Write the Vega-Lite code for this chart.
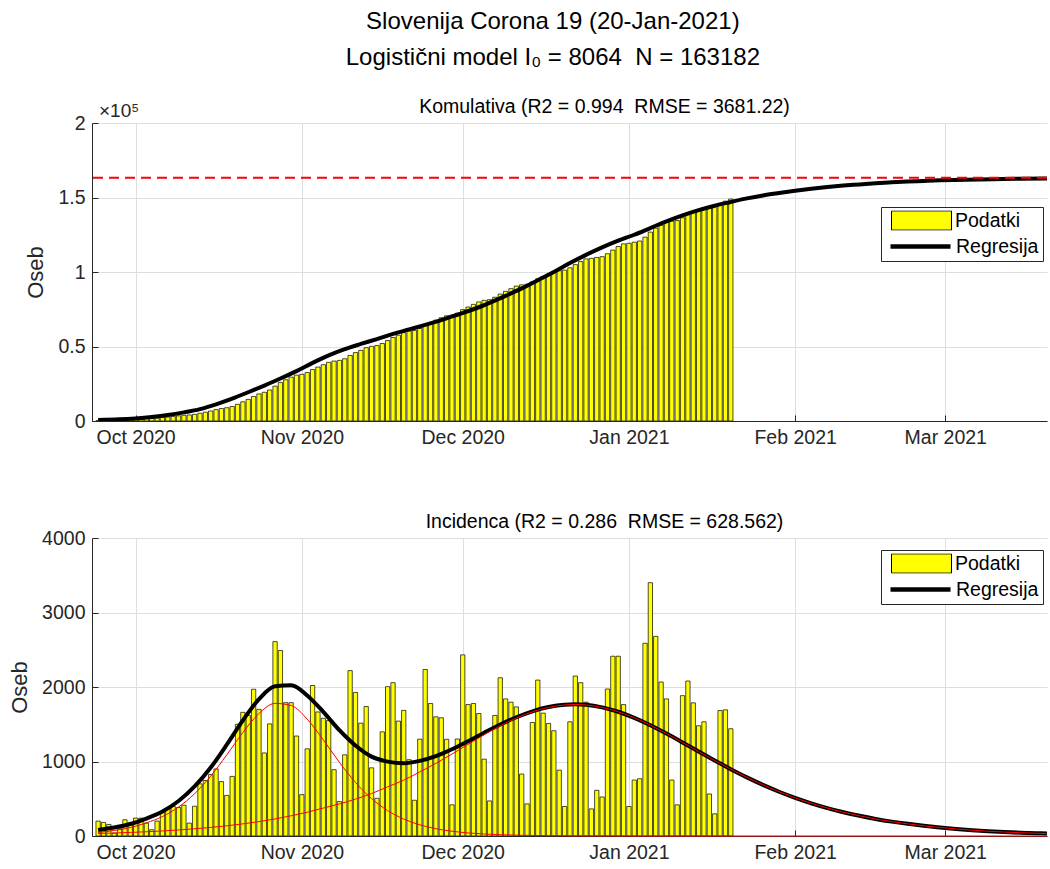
{
  "$schema": "https://vega.github.io/schema/vega-lite/v6.json",
  "background": "white",
  "padding": {"left": 8, "top": 9, "right": 0, "bottom": 0},
  "title": {
    "text": ["Slovenija Corona 19 (20-Jan-2021)", "Logistični model I₀ = 8064 \u00a0N = 163182"],
    "fontSize": 24,
    "lineHeight": 36,
    "fontWeight": "normal",
    "color": "black",
    "anchor": "middle",
    "dx": 24,
    "offset": 27
  },
  "config": {
    "font": "Liberation Sans",
    "view": {"stroke": null},
    "axis": {
      "labelFont": "Liberation Sans",
      "labelFontSize": 19.5,
      "labelColor": "#262626",
      "titleFont": "Liberation Sans",
      "titleFontSize": 22,
      "titleFontWeight": "normal",
      "titleColor": "#262626",
      "domainColor": "#262626",
      "tickColor": "#262626",
      "gridColor": "#dedede",
      "tickSize": -6,
      "labelPadding": 13,
      "titlePadding": 10
    },
    "title": {"font": "Liberation Sans", "fontWeight": "normal", "color": "black"},
    "legend": {
      "orient": "none",
      "labelFont": "Liberation Sans",
      "labelFontSize": 19.5,
      "labelColor": "black",
      "titleFont": "Liberation Sans",
      "titleFontSize": 19.5,
      "titleFontWeight": "normal",
      "padding": 4,
      "clipHeight": 20,
      "rowPadding": 6,
      "symbolOffset": 3,
      "labelOffset": 3,
      "symbolSize": 3600,
      "labelLimit": 0
    }
  },
  "resolve": {
    "scale": {"fill": "independent", "stroke": "independent"},
    "legend": {"fill": "independent", "stroke": "independent"}
  },
  "spacing": 64,
  "datasets": {
    "podatki": [
      {"date": "2020-09-24", "inc": 200, "cum": 200},
      {"date": "2020-09-25", "inc": 182, "cum": 382},
      {"date": "2020-09-26", "inc": 155, "cum": 537},
      {"date": "2020-09-27", "inc": 40, "cum": 577},
      {"date": "2020-09-28", "inc": 98, "cum": 675},
      {"date": "2020-09-29", "inc": 218, "cum": 893},
      {"date": "2020-09-30", "inc": 173, "cum": 1066},
      {"date": "2020-10-01", "inc": 240, "cum": 1306},
      {"date": "2020-10-02", "inc": 240, "cum": 1546},
      {"date": "2020-10-03", "inc": 173, "cum": 1719},
      {"date": "2020-10-04", "inc": 84, "cum": 1803},
      {"date": "2020-10-05", "inc": 200, "cum": 2003},
      {"date": "2020-10-06", "inc": 320, "cum": 2323},
      {"date": "2020-10-07", "inc": 373, "cum": 2696},
      {"date": "2020-10-08", "inc": 396, "cum": 3092},
      {"date": "2020-10-09", "inc": 382, "cum": 3474},
      {"date": "2020-10-10", "inc": 413, "cum": 3887},
      {"date": "2020-10-11", "inc": 173, "cum": 4060},
      {"date": "2020-10-12", "inc": 400, "cum": 4460},
      {"date": "2020-10-13", "inc": 700, "cum": 5160},
      {"date": "2020-10-14", "inc": 745, "cum": 5905},
      {"date": "2020-10-15", "inc": 825, "cum": 6730},
      {"date": "2020-10-16", "inc": 900, "cum": 7630},
      {"date": "2020-10-17", "inc": 730, "cum": 8360},
      {"date": "2020-10-18", "inc": 545, "cum": 8905},
      {"date": "2020-10-19", "inc": 800, "cum": 9705},
      {"date": "2020-10-20", "inc": 1500, "cum": 11205},
      {"date": "2020-10-21", "inc": 1660, "cum": 12865},
      {"date": "2020-10-22", "inc": 1620, "cum": 14485},
      {"date": "2020-10-23", "inc": 1970, "cum": 16455},
      {"date": "2020-10-24", "inc": 1700, "cum": 18155},
      {"date": "2020-10-25", "inc": 1115, "cum": 19270},
      {"date": "2020-10-26", "inc": 1505, "cum": 20775},
      {"date": "2020-10-27", "inc": 2609, "cum": 23384},
      {"date": "2020-10-28", "inc": 2490, "cum": 25874},
      {"date": "2020-10-29", "inc": 1790, "cum": 27664},
      {"date": "2020-10-30", "inc": 1790, "cum": 29454},
      {"date": "2020-10-31", "inc": 1342, "cum": 30796},
      {"date": "2020-11-01", "inc": 555, "cum": 31351},
      {"date": "2020-11-02", "inc": 1170, "cum": 32521},
      {"date": "2020-11-03", "inc": 2020, "cum": 34541},
      {"date": "2020-11-04", "inc": 1665, "cum": 36206},
      {"date": "2020-11-05", "inc": 1580, "cum": 37786},
      {"date": "2020-11-06", "inc": 1550, "cum": 39336},
      {"date": "2020-11-07", "inc": 890, "cum": 40226},
      {"date": "2020-11-08", "inc": 462, "cum": 40688},
      {"date": "2020-11-09", "inc": 1090, "cum": 41778},
      {"date": "2020-11-10", "inc": 2220, "cum": 43998},
      {"date": "2020-11-11", "inc": 1927, "cum": 45925},
      {"date": "2020-11-12", "inc": 1515, "cum": 47440},
      {"date": "2020-11-13", "inc": 1738, "cum": 49178},
      {"date": "2020-11-14", "inc": 915, "cum": 50093},
      {"date": "2020-11-15", "inc": 506, "cum": 50599},
      {"date": "2020-11-16", "inc": 1398, "cum": 51997},
      {"date": "2020-11-17", "inc": 2005, "cum": 54002},
      {"date": "2020-11-18", "inc": 2058, "cum": 56060},
      {"date": "2020-11-19", "inc": 1542, "cum": 57602},
      {"date": "2020-11-20", "inc": 1686, "cum": 59288},
      {"date": "2020-11-21", "inc": 1024, "cum": 60312},
      {"date": "2020-11-22", "inc": 480, "cum": 60792},
      {"date": "2020-11-23", "inc": 1300, "cum": 62092},
      {"date": "2020-11-24", "inc": 2235, "cum": 64327},
      {"date": "2020-11-25", "inc": 1778, "cum": 66105},
      {"date": "2020-11-26", "inc": 1600, "cum": 67705},
      {"date": "2020-11-27", "inc": 1587, "cum": 69292},
      {"date": "2020-11-28", "inc": 1298, "cum": 70590},
      {"date": "2020-11-29", "inc": 418, "cum": 71008},
      {"date": "2020-11-30", "inc": 1302, "cum": 72310},
      {"date": "2020-12-01", "inc": 2431, "cum": 74741},
      {"date": "2020-12-02", "inc": 1764, "cum": 76505},
      {"date": "2020-12-03", "inc": 1778, "cum": 78283},
      {"date": "2020-12-04", "inc": 1644, "cum": 79927},
      {"date": "2020-12-05", "inc": 1031, "cum": 80958},
      {"date": "2020-12-06", "inc": 471, "cum": 81429},
      {"date": "2020-12-07", "inc": 1618, "cum": 83047},
      {"date": "2020-12-08", "inc": 2124, "cum": 85171},
      {"date": "2020-12-09", "inc": 1840, "cum": 87011},
      {"date": "2020-12-10", "inc": 1796, "cum": 88807},
      {"date": "2020-12-11", "inc": 1733, "cum": 90540},
      {"date": "2020-12-12", "inc": 831, "cum": 91371},
      {"date": "2020-12-13", "inc": 431, "cum": 91802},
      {"date": "2020-12-14", "inc": 1524, "cum": 93326},
      {"date": "2020-12-15", "inc": 2093, "cum": 95419},
      {"date": "2020-12-16", "inc": 1649, "cum": 97068},
      {"date": "2020-12-17", "inc": 1511, "cum": 98579},
      {"date": "2020-12-18", "inc": 1413, "cum": 99992},
      {"date": "2020-12-19", "inc": 884, "cum": 100876},
      {"date": "2020-12-20", "inc": 396, "cum": 101272},
      {"date": "2020-12-21", "inc": 1533, "cum": 102805},
      {"date": "2020-12-22", "inc": 2147, "cum": 104952},
      {"date": "2020-12-23", "inc": 2058, "cum": 107010},
      {"date": "2020-12-24", "inc": 1796, "cum": 108806},
      {"date": "2020-12-25", "inc": 364, "cum": 109170},
      {"date": "2020-12-26", "inc": 613, "cum": 109783},
      {"date": "2020-12-27", "inc": 524, "cum": 110307},
      {"date": "2020-12-28", "inc": 1973, "cum": 112280},
      {"date": "2020-12-29", "inc": 2413, "cum": 114693},
      {"date": "2020-12-30", "inc": 2413, "cum": 117106},
      {"date": "2020-12-31", "inc": 1764, "cum": 118870},
      {"date": "2021-01-01", "inc": 396, "cum": 119266},
      {"date": "2021-01-02", "inc": 751, "cum": 120017},
      {"date": "2021-01-03", "inc": 769, "cum": 120786},
      {"date": "2021-01-04", "inc": 2587, "cum": 123373},
      {"date": "2021-01-05", "inc": 3400, "cum": 126773},
      {"date": "2021-01-06", "inc": 2680, "cum": 129453},
      {"date": "2021-01-07", "inc": 2067, "cum": 131520},
      {"date": "2021-01-08", "inc": 1840, "cum": 133360},
      {"date": "2021-01-09", "inc": 751, "cum": 134111},
      {"date": "2021-01-10", "inc": 418, "cum": 134529},
      {"date": "2021-01-11", "inc": 1884, "cum": 136413},
      {"date": "2021-01-12", "inc": 2080, "cum": 138493},
      {"date": "2021-01-13", "inc": 1787, "cum": 140280},
      {"date": "2021-01-14", "inc": 1480, "cum": 141760},
      {"date": "2021-01-15", "inc": 1533, "cum": 143293},
      {"date": "2021-01-16", "inc": 564, "cum": 143857},
      {"date": "2021-01-17", "inc": 298, "cum": 144155},
      {"date": "2021-01-18", "inc": 1684, "cum": 145839},
      {"date": "2021-01-19", "inc": 1693, "cum": 147532},
      {"date": "2021-01-20", "inc": 1440, "cum": 148972}
    ],
    "kum_fit": [
      {"date": "2020-09-24", "fit": 700},
      {"date": "2020-09-28", "fit": 1100},
      {"date": "2020-10-01", "fit": 1750},
      {"date": "2020-10-04", "fit": 2700},
      {"date": "2020-10-07", "fit": 4000},
      {"date": "2020-10-10", "fit": 5800},
      {"date": "2020-10-13", "fit": 8000},
      {"date": "2020-10-16", "fit": 11200},
      {"date": "2020-10-19", "fit": 15000},
      {"date": "2020-10-22", "fit": 19300},
      {"date": "2020-10-25", "fit": 23800},
      {"date": "2020-10-28", "fit": 28500},
      {"date": "2020-10-31", "fit": 33500},
      {"date": "2020-11-03", "fit": 39000},
      {"date": "2020-11-06", "fit": 44000},
      {"date": "2020-11-09", "fit": 48200},
      {"date": "2020-11-12", "fit": 51700},
      {"date": "2020-11-15", "fit": 55000},
      {"date": "2020-11-18", "fit": 58500},
      {"date": "2020-11-21", "fit": 61500},
      {"date": "2020-11-24", "fit": 64500},
      {"date": "2020-11-27", "fit": 67700},
      {"date": "2020-11-30", "fit": 71300},
      {"date": "2020-12-03", "fit": 75000},
      {"date": "2020-12-06", "fit": 79300},
      {"date": "2020-12-09", "fit": 84000},
      {"date": "2020-12-12", "fit": 89000},
      {"date": "2020-12-15", "fit": 94500},
      {"date": "2020-12-18", "fit": 100000},
      {"date": "2020-12-21", "fit": 106000},
      {"date": "2020-12-24", "fit": 111500},
      {"date": "2020-12-27", "fit": 116500},
      {"date": "2020-12-30", "fit": 121000},
      {"date": "2021-01-02", "fit": 125000},
      {"date": "2021-01-05", "fit": 129500},
      {"date": "2021-01-08", "fit": 134000},
      {"date": "2021-01-11", "fit": 138000},
      {"date": "2021-01-14", "fit": 141500},
      {"date": "2021-01-17", "fit": 144500},
      {"date": "2021-01-20", "fit": 147000},
      {"date": "2021-01-23", "fit": 149400},
      {"date": "2021-01-26", "fit": 151400},
      {"date": "2021-01-29", "fit": 153000},
      {"date": "2021-02-01", "fit": 154500},
      {"date": "2021-02-04", "fit": 155800},
      {"date": "2021-02-07", "fit": 157000},
      {"date": "2021-02-10", "fit": 158000},
      {"date": "2021-02-13", "fit": 158800},
      {"date": "2021-02-16", "fit": 159600},
      {"date": "2021-02-19", "fit": 160200},
      {"date": "2021-02-22", "fit": 160700},
      {"date": "2021-02-25", "fit": 161100},
      {"date": "2021-02-28", "fit": 161500},
      {"date": "2021-03-05", "fit": 161950},
      {"date": "2021-03-10", "fit": 162300},
      {"date": "2021-03-15", "fit": 162550},
      {"date": "2021-03-20", "fit": 162750}
    ],
    "inc_fit": [
      {"date": "2020-09-24", "total": 81, "c1": 48, "c2": 34},
      {"date": "2020-09-27", "total": 114, "c1": 74, "c2": 40},
      {"date": "2020-09-30", "total": 161, "c1": 113, "c2": 48},
      {"date": "2020-10-03", "total": 234, "c1": 177, "c2": 57},
      {"date": "2020-10-06", "total": 329, "c1": 261, "c2": 68},
      {"date": "2020-10-09", "total": 470, "c1": 389, "c2": 81},
      {"date": "2020-10-12", "total": 665, "c1": 568, "c2": 97},
      {"date": "2020-10-15", "total": 919, "c1": 804, "c2": 115},
      {"date": "2020-10-18", "total": 1226, "c1": 1089, "c2": 137},
      {"date": "2020-10-21", "total": 1553, "c1": 1390, "c2": 163},
      {"date": "2020-10-24", "total": 1837, "c1": 1644, "c2": 193},
      {"date": "2020-10-27", "total": 2009, "c1": 1780, "c2": 229},
      {"date": "2020-10-30", "total": 2023, "c1": 1752, "c2": 271},
      {"date": "2020-11-02", "total": 1887, "c1": 1568, "c2": 319},
      {"date": "2020-11-05", "total": 1666, "c1": 1291, "c2": 375},
      {"date": "2020-11-08", "total": 1420, "c1": 989, "c2": 431},
      {"date": "2020-11-11", "total": 1214, "c1": 719, "c2": 495},
      {"date": "2020-11-14", "total": 1065, "c1": 502, "c2": 570},
      {"date": "2020-11-17", "total": 998, "c1": 341, "c2": 660},
      {"date": "2020-11-20", "total": 976, "c1": 228, "c2": 750},
      {"date": "2020-11-23", "total": 1008, "c1": 150, "c2": 860},
      {"date": "2020-11-26", "total": 1072, "c1": 98, "c2": 975},
      {"date": "2020-11-29", "total": 1164, "c1": 64, "c2": 1100},
      {"date": "2020-12-02", "total": 1271, "c1": 41, "c2": 1230},
      {"date": "2020-12-05", "total": 1387, "c1": 27, "c2": 1360},
      {"date": "2020-12-08", "total": 1497, "c1": 17, "c2": 1480},
      {"date": "2020-12-11", "total": 1594, "c1": 11, "c2": 1583},
      {"date": "2020-12-14", "total": 1674, "c1": 7, "c2": 1667},
      {"date": "2020-12-17", "total": 1731, "c1": 5, "c2": 1726},
      {"date": "2020-12-20", "total": 1762, "c1": 3, "c2": 1759},
      {"date": "2020-12-22", "total": 1767, "c1": 2, "c2": 1765},
      {"date": "2020-12-24", "total": 1761, "c1": 2, "c2": 1759},
      {"date": "2020-12-27", "total": 1727, "c1": 1, "c2": 1726},
      {"date": "2020-12-30", "total": 1668, "c1": 1, "c2": 1667},
      {"date": "2021-01-02", "total": 1586, "c1": 0, "c2": 1586},
      {"date": "2021-01-05", "total": 1487, "c1": 0, "c2": 1487},
      {"date": "2021-01-08", "total": 1375, "c1": 0, "c2": 1375},
      {"date": "2021-01-11", "total": 1256, "c1": 0, "c2": 1256},
      {"date": "2021-01-14", "total": 1134, "c1": 0, "c2": 1134},
      {"date": "2021-01-17", "total": 1013, "c1": 0, "c2": 1013},
      {"date": "2021-01-20", "total": 897, "c1": 0, "c2": 897},
      {"date": "2021-01-23", "total": 787, "c1": 0, "c2": 787},
      {"date": "2021-01-26", "total": 686, "c1": 0, "c2": 686},
      {"date": "2021-01-29", "total": 594, "c1": 0, "c2": 594},
      {"date": "2021-02-01", "total": 512, "c1": 0, "c2": 512},
      {"date": "2021-02-04", "total": 439, "c1": 0, "c2": 439},
      {"date": "2021-02-07", "total": 375, "c1": 0, "c2": 375},
      {"date": "2021-02-10", "total": 319, "c1": 0, "c2": 319},
      {"date": "2021-02-13", "total": 271, "c1": 0, "c2": 271},
      {"date": "2021-02-16", "total": 229, "c1": 0, "c2": 229},
      {"date": "2021-02-19", "total": 193, "c1": 0, "c2": 193},
      {"date": "2021-02-22", "total": 163, "c1": 0, "c2": 163},
      {"date": "2021-02-25", "total": 137, "c1": 0, "c2": 137},
      {"date": "2021-02-28", "total": 115, "c1": 0, "c2": 115},
      {"date": "2021-03-03", "total": 95, "c1": 0, "c2": 95},
      {"date": "2021-03-06", "total": 78, "c1": 0, "c2": 78},
      {"date": "2021-03-09", "total": 64, "c1": 0, "c2": 64},
      {"date": "2021-03-12", "total": 53, "c1": 0, "c2": 53},
      {"date": "2021-03-15", "total": 44, "c1": 0, "c2": 44},
      {"date": "2021-03-18", "total": 37, "c1": 0, "c2": 37},
      {"date": "2021-03-20", "total": 33, "c1": 0, "c2": 33}
    ]
  },
  "vconcat": [
    {
      "width": 955,
      "height": 298,
      "title": {"text": "Komulativa (R2 = 0.994 \u00a0RMSE = 3681.22)", "fontSize": 19.5, "dx": 35, "offset": -15},
      "layer": [
        {
          "data": {"name": "podatki"},
          "mark": {"type": "bar", "width": 4.3, "stroke": "black", "strokeWidth": 0.7, "clip": true},
          "encoding": {
            "x": {
              "field": "date", "type": "temporal", "title": null,
              "scale": {"type": "utc", "domain": [{"year": 2020, "month": 9, "date": 23, "hours": 19, "utc": true}, {"year": 2021, "month": 3, "date": 19, "hours": 1, "utc": true}]},
              "axis": {"format": "%b %Y", "grid": true, "values": [
                {"year": 2020, "month": 10, "date": 1, "utc": true},
                {"year": 2020, "month": 11, "date": 1, "utc": true},
                {"year": 2020, "month": 12, "date": 1, "utc": true},
                {"year": 2021, "month": 1, "date": 1, "utc": true},
                {"year": 2021, "month": 2, "date": 1, "utc": true},
                {"year": 2021, "month": 3, "date": 1, "utc": true}
              ]}
            },
            "y": {
              "field": "cum", "type": "quantitative", "title": "Oseb",
              "scale": {"domain": [0, 200000], "nice": false},
              "axis": {"values": [0, 50000, 100000, 150000, 200000], "labelExpr": "format(datum.value / 100000, '~g')", "grid": true}
            },
            "fill": {
              "datum": "Podatki",
              "scale": {"range": ["#ffff00"]},
              "legend": {
                "legendX": 792, "legendY": 83.5, "zindex": 2,
                "title": null,
                "symbolType": "M-1,-0.32H1V0.32H-1Z",
                "symbolStrokeColor": "#000000", "symbolStrokeWidth": 1
              }
            }
          }
        },
        {
          "data": {"name": "kum_fit"},
          "mark": {"type": "line", "strokeWidth": 4, "interpolate": "monotone", "clip": true},
          "encoding": {
            "x": {"field": "date", "type": "temporal"},
            "y": {"field": "fit", "type": "quantitative"},
            "stroke": {
              "datum": "Regresija",
              "scale": {"range": ["#000000"]},
              "legend": {
                "legendX": 789, "legendY": 84, "zindex": 1,
                "title": "\u00a0", "titleOrient": "top", "titlePadding": 6,
                "strokeColor": "#262626", "fillColor": "white",
                "symbolType": "M-1,0H1",
                "symbolStrokeWidth": 4.5
              }
            }
          }
        },
        {
          "data": {"values": [{"N": 163182}]},
          "mark": {"type": "rule", "color": "#ff0000", "strokeWidth": 2, "strokeDash": [10, 6]},
          "encoding": {"y": {"field": "N", "type": "quantitative"}}
        },
        {
          "data": {"values": [{"oznaka": "×10⁵"}]},
          "mark": {"type": "text", "align": "left", "baseline": "bottom", "dx": 2, "dy": -2, "fontSize": 19, "color": "#262626", "font": "Liberation Sans"},
          "encoding": {
            "x": {"datum": {"year": 2020, "month": 9, "date": 23, "hours": 19, "utc": true}, "type": "temporal"},
            "y": {"datum": 200000, "type": "quantitative"},
            "text": {"field": "oznaka"}
          }
        }
      ]
    },
    {
      "width": 955,
      "height": 298,
      "title": {"text": "Incidenca (R2 = 0.286 \u00a0RMSE = 628.562)", "fontSize": 19.5, "dx": 35, "offset": -4},
      "layer": [
        {
          "data": {"name": "podatki"},
          "mark": {"type": "bar", "width": 4.3, "stroke": "black", "strokeWidth": 0.7, "clip": true},
          "encoding": {
            "x": {
              "field": "date", "type": "temporal", "title": null,
              "scale": {"type": "utc", "domain": [{"year": 2020, "month": 9, "date": 23, "hours": 19, "utc": true}, {"year": 2021, "month": 3, "date": 19, "hours": 1, "utc": true}]},
              "axis": {"format": "%b %Y", "grid": true, "values": [
                {"year": 2020, "month": 10, "date": 1, "utc": true},
                {"year": 2020, "month": 11, "date": 1, "utc": true},
                {"year": 2020, "month": 12, "date": 1, "utc": true},
                {"year": 2021, "month": 1, "date": 1, "utc": true},
                {"year": 2021, "month": 2, "date": 1, "utc": true},
                {"year": 2021, "month": 3, "date": 1, "utc": true}
              ]}
            },
            "y": {
              "field": "inc", "type": "quantitative", "title": "Oseb",
              "scale": {"domain": [0, 4000], "nice": false},
              "axis": {"values": [0, 1000, 2000, 3000, 4000], "format": "d", "grid": true}
            },
            "fill": {
              "datum": "Podatki",
              "scale": {"range": ["#ffff00"]},
              "legend": {
                "legendX": 792, "legendY": 11.5, "zindex": 2,
                "title": null,
                "symbolType": "M-1,-0.32H1V0.32H-1Z",
                "symbolStrokeColor": "#000000", "symbolStrokeWidth": 1
              }
            }
          }
        },
        {
          "data": {"name": "inc_fit"},
          "mark": {"type": "line", "strokeWidth": 4, "interpolate": "monotone", "clip": true},
          "encoding": {
            "x": {"field": "date", "type": "temporal"},
            "y": {"field": "total", "type": "quantitative"},
            "stroke": {
              "datum": "Regresija",
              "scale": {"range": ["#000000"]},
              "legend": {
                "legendX": 789, "legendY": 12, "zindex": 1,
                "title": "\u00a0", "titleOrient": "top", "titlePadding": 6,
                "strokeColor": "#262626", "fillColor": "white",
                "symbolType": "M-1,0H1",
                "symbolStrokeWidth": 4.5
              }
            }
          }
        },
        {
          "data": {"name": "inc_fit"},
          "mark": {"type": "line", "strokeWidth": 1, "color": "#ff0000", "interpolate": "monotone"},
          "encoding": {
            "x": {"field": "date", "type": "temporal"},
            "y": {"field": "c1", "type": "quantitative"}
          }
        },
        {
          "data": {"name": "inc_fit"},
          "mark": {"type": "line", "strokeWidth": 1, "color": "#ff0000", "interpolate": "monotone"},
          "encoding": {
            "x": {"field": "date", "type": "temporal"},
            "y": {"field": "c2", "type": "quantitative"}
          }
        }
      ]
    }
  ]
}
